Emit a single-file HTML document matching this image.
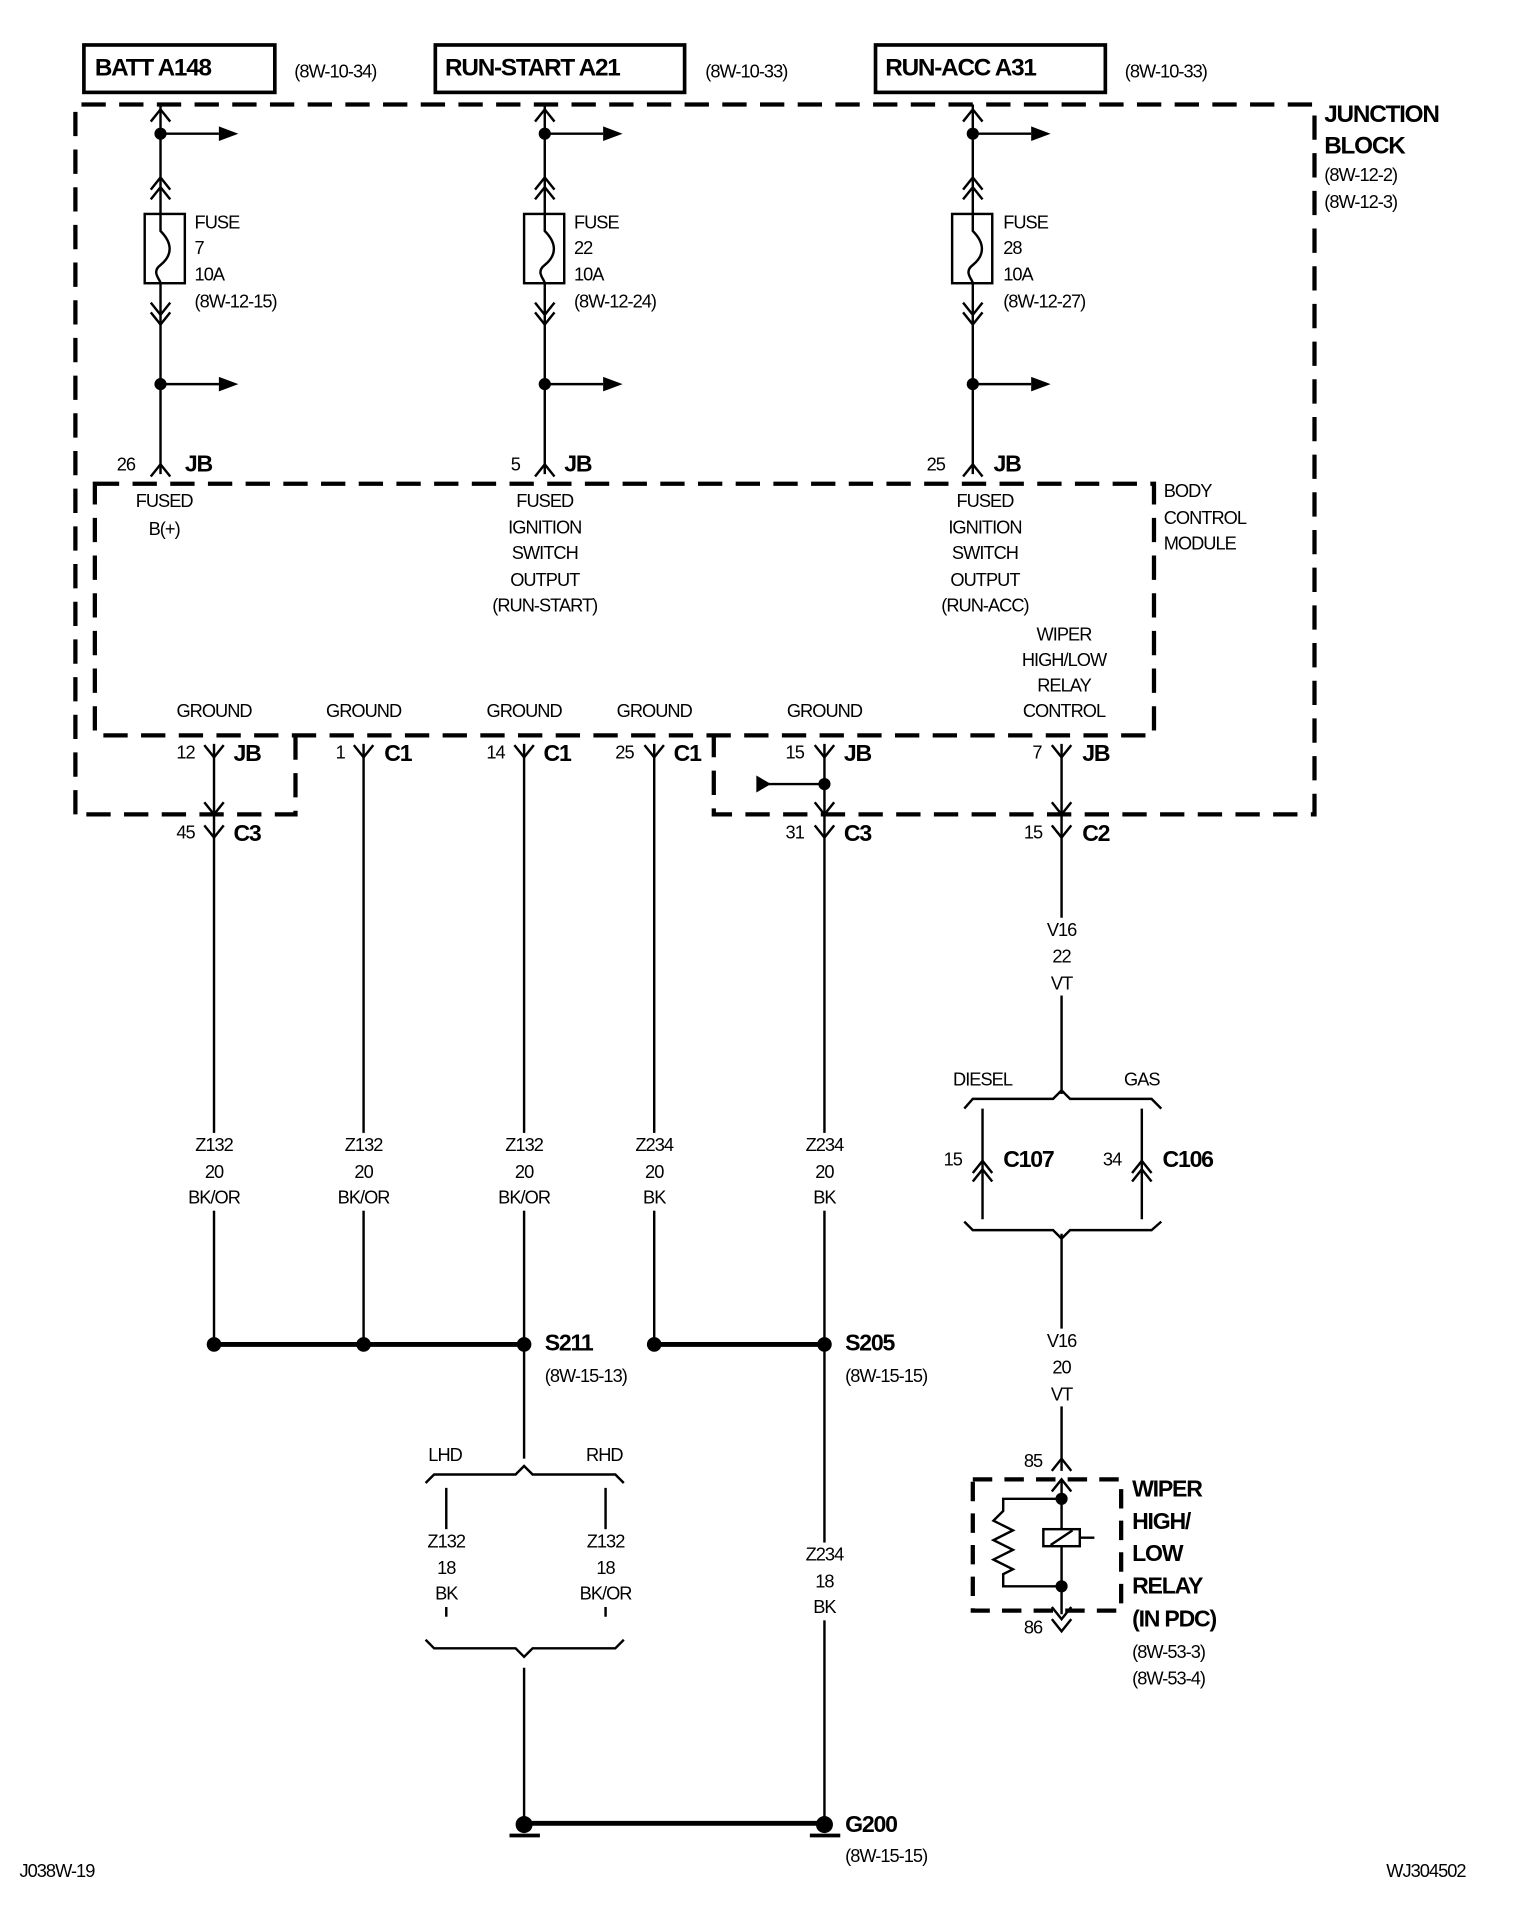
<!DOCTYPE html>
<html><head><meta charset="utf-8"><style>
html,body{margin:0;padding:0;background:#fff;}
svg{display:block;}
text{font-family:"Liberation Sans",sans-serif;fill:#000;}
.s{font-size:15px;letter-spacing:-0.8px;}
.b{font-size:20px;font-weight:bold;letter-spacing:-1px;}
.m{font-size:19px;font-weight:bold;letter-spacing:-1px;}
.c{text-anchor:middle;}
</style></head><body>
<svg width="1520" height="1906" viewBox="0 0 1250 1568" preserveAspectRatio="none" xmlns="http://www.w3.org/2000/svg">
<g fill="none" stroke="#000">
<rect x="69" y="37" width="157" height="39" stroke-width="3"/>
<rect x="358" y="37" width="205" height="39" stroke-width="3"/>
<rect x="720" y="37" width="189" height="39" stroke-width="3"/>
<path d="M62,670 V86 H1081 V670 H587 V605 M243,605 V670 H62" stroke-width="3.5" stroke-dasharray="20,11"/>
<rect x="78" y="398" width="871" height="207" stroke-width="3.5" stroke-dasharray="20,11"/>
<rect x="800" y="1217" width="122" height="108" stroke-width="3.5" stroke-dasharray="16,10"/>
</g>

<g stroke="#000" stroke-width="2" fill="none">
<path d="M132,86 V390 M448,86 V390 M800,86 V390"/>
<path d="M124,100 L132,90 L140,100 M440,100 L448,90 L456,100 M792,100 L800,90 L808,100"/>
<path d="M124,156 L132,146 L140,156 M124,164 L132,154 L140,164 M440,156 L448,146 L456,156 M440,164 L448,154 L456,164 M792,156 L800,146 L808,156 M792,164 L800,154 L808,164"/>
<path d="M124,249 L132,259 L140,249 M124,257 L132,267 L140,257 M440,249 L448,259 L456,249 M440,257 L448,267 L456,257 M792,249 L800,259 L808,249 M792,257 L800,267 L808,257"/>
<path d="M132,110 H180 M448,110 H496 M800,110 H848 M132,316 H180 M448,316 H496 M800,316 H848"/>
<path d="M124,392 L132,382 L140,392 M440,392 L448,382 L456,392 M792,392 L800,382 L808,392"/>
<rect x="119" y="176" width="33" height="57" fill="#fff"/>
<rect x="431" y="176" width="33" height="57" fill="#fff"/>
<rect x="783" y="176" width="33" height="57" fill="#fff"/>
<path d="M132,176 V190 C142,200 142,210 132,218 C124,224 132,230 132,233 V233"/>
<path d="M448,176 V190 C458,200 458,210 448,218 C440,224 448,230 448,233"/>
<path d="M800,176 V190 C810,200 810,210 800,218 C792,224 800,230 800,233"/>
<path d="M176,612 V1106 M299,612 V1106 M431,612 V1200 M538,612 V1106 M678,612 V1500 M873,612 V900"/>
<path d="M168,613 L176,623 L184,613 M291,613 L299,623 L307,613 M423,613 L431,623 L439,613 M530,613 L538,623 L546,613 M670,613 L678,623 L686,613 M865,613 L873,623 L881,613"/>
<path d="M168,660 L176,670 L184,660 M670,660 L678,670 L686,660 M865,660 L873,670 L881,660"/>
<path d="M168,679 L176,689 L184,679 M670,679 L678,689 L686,679 M865,679 L873,689 L881,679"/>
<path d="M630,645 H678"/>
<path d="M793,912 L800,904 H866 L873,897 L880,904 H947 L955,912"/>
<path d="M873,1015 V1210 M808,912 V1003 M939,912 V1003"/>
<path d="M800,965 L808,955 L816,965 M800,972 L808,962 L816,972 M931,965 L939,955 L947,965 M931,972 L939,962 L947,972"/>
<path d="M793,1005 L800,1012 H866 L873,1019 L880,1012 H947 L955,1005"/>
<path d="M865,1210 L873,1200 L881,1210 M865,1227 L873,1217 L881,1227 M873,1217 V1328 M865,1322 L873,1332 L881,1322 M865,1332 L873,1342 L881,1332"/>
<path d="M873,1233 H825 V1243 L817,1251 L833,1259 L817,1267 L833,1275 L817,1283 L833,1291 L825,1295 V1305 H873"/>
<rect x="858" y="1258" width="30" height="14" fill="#fff"/>
<path d="M864,1271 L882,1259 M888,1265 H900"/>
<path d="M350,1220 L357,1213 H424 L431,1206 L438,1213 H506 L513,1220"/>
<path d="M367,1224 V1330 M498,1224 V1330"/>
<path d="M350,1349 L357,1356 H424 L431,1363 L438,1356 H506 L513,1349"/>
<path d="M431,1372 V1500"/>
</g>
<g stroke="#000" stroke-width="4">
<path d="M176,1106 H431 M538,1106 H678 M431,1500 H678"/>
<path d="M419,1510 H444 M666,1510 H691" stroke-width="3"/>
</g>
<g fill="#000">
<path d="M180,104 L196,110 L180,116Z M496,104 L512,110 L496,116Z M848,104 L864,110 L848,116Z M180,310 L196,316 L180,322Z M496,310 L512,316 L496,322Z M848,310 L864,316 L848,322Z"/>
<path d="M622,638 L634,645 L622,652Z"/>
<circle cx="132" cy="110" r="5"/><circle cx="448" cy="110" r="5"/><circle cx="800" cy="110" r="5"/>
<circle cx="132" cy="316" r="5"/><circle cx="448" cy="316" r="5"/><circle cx="800" cy="316" r="5"/>
<circle cx="678" cy="645" r="5"/>
<circle cx="176" cy="1106" r="6"/><circle cx="299" cy="1106" r="6"/><circle cx="431" cy="1106" r="6"/><circle cx="538" cy="1106" r="6"/><circle cx="678" cy="1106" r="6"/>
<circle cx="873" cy="1233" r="5"/><circle cx="873" cy="1305" r="5"/>
<circle cx="431" cy="1501" r="7"/><circle cx="678" cy="1501" r="7"/>
</g>
<g fill="#fff">
<rect x="150" y="932" width="52" height="64"/><rect x="273" y="932" width="52" height="64"/><rect x="405" y="932" width="52" height="64"/><rect x="512" y="932" width="52" height="64"/><rect x="652" y="932" width="52" height="64"/>
<rect x="847" y="755" width="52" height="64"/><rect x="847" y="1093" width="52" height="64"/>
<rect x="345" y="1258" width="44" height="64"/><rect x="472" y="1258" width="52" height="64"/><rect x="652" y="1269" width="52" height="64"/>
</g>

<g dominant-baseline="middle">
<text class="b" x="78" y="57">BATT A148</text>
<text class="b" x="366" y="57">RUN-START A21</text>
<text class="b" x="728" y="57">RUN-ACC A31</text>
<text class="s" x="242" y="60">(8W-10-34)</text>
<text class="s" x="580" y="60">(8W-10-33)</text>
<text class="s" x="925" y="60">(8W-10-33)</text>
<text class="b" x="1089" y="95">JUNCTION</text>
<text class="b" x="1089" y="121">BLOCK</text>
<text class="s" x="1089" y="145">(8W-12-2)</text>
<text class="s" x="1089" y="167">(8W-12-3)</text>

<text class="s" x="160" y="184">FUSE</text><text class="s" x="160" y="205">7</text><text class="s" x="160" y="227">10A</text><text class="s" x="160" y="249">(8W-12-15)</text>
<text class="s" x="472" y="184">FUSE</text><text class="s" x="472" y="205">22</text><text class="s" x="472" y="227">10A</text><text class="s" x="472" y="249">(8W-12-24)</text>
<text class="s" x="825" y="184">FUSE</text><text class="s" x="825" y="205">28</text><text class="s" x="825" y="227">10A</text><text class="s" x="825" y="249">(8W-12-27)</text>

<text class="s" x="96" y="383">26</text><text class="m" x="152" y="383">JB</text>
<text class="s" x="420" y="383">5</text><text class="m" x="464" y="383">JB</text>
<text class="s" x="762" y="383">25</text><text class="m" x="817" y="383">JB</text>

<g class="s c">
<text x="135" y="413">FUSED</text><text x="135" y="436">B(+)</text>
<text x="448" y="413">FUSED</text><text x="448" y="435">IGNITION</text><text x="448" y="456">SWITCH</text><text x="448" y="478">OUTPUT</text><text x="448" y="499">(RUN-START)</text>
<text x="810" y="413">FUSED</text><text x="810" y="435">IGNITION</text><text x="810" y="456">SWITCH</text><text x="810" y="478">OUTPUT</text><text x="810" y="499">(RUN-ACC)</text>
<text x="875" y="523">WIPER</text><text x="875" y="544">HIGH/LOW</text><text x="875" y="565">RELAY</text><text x="875" y="586">CONTROL</text>
<text x="176" y="586">GROUND</text><text x="299" y="586">GROUND</text><text x="431" y="586">GROUND</text><text x="538" y="586">GROUND</text><text x="678" y="586">GROUND</text>
</g>
<text class="s" x="957" y="405">BODY</text><text class="s" x="957" y="427">CONTROL</text><text class="s" x="957" y="448">MODULE</text>

<text class="s" x="145" y="620">12</text><text class="m" x="192" y="621">JB</text>
<text class="s" x="276" y="620">1</text><text class="m" x="316" y="621">C1</text>
<text class="s" x="400" y="620">14</text><text class="m" x="447" y="621">C1</text>
<text class="s" x="506" y="620">25</text><text class="m" x="554" y="621">C1</text>
<text class="s" x="646" y="620">15</text><text class="m" x="694" y="621">JB</text>
<text class="s" x="849" y="620">7</text><text class="m" x="890" y="621">JB</text>
<text class="s" x="145" y="686">45</text><text class="m" x="192" y="687">C3</text>
<text class="s" x="646" y="686">31</text><text class="m" x="694" y="687">C3</text>
<text class="s" x="842" y="686">15</text><text class="m" x="890" y="687">C2</text>

<g class="s c">
<text x="176" y="943">Z132</text><text x="176" y="965">20</text><text x="176" y="986">BK/OR</text>
<text x="299" y="943">Z132</text><text x="299" y="965">20</text><text x="299" y="986">BK/OR</text>
<text x="431" y="943">Z132</text><text x="431" y="965">20</text><text x="431" y="986">BK/OR</text>
<text x="538" y="943">Z234</text><text x="538" y="965">20</text><text x="538" y="986">BK</text>
<text x="678" y="943">Z234</text><text x="678" y="965">20</text><text x="678" y="986">BK</text>
<text x="873" y="766">V16</text><text x="873" y="788">22</text><text x="873" y="810">VT</text>
<text x="873" y="1104">V16</text><text x="873" y="1126">20</text><text x="873" y="1148">VT</text>
<text x="367" y="1269">Z132</text><text x="367" y="1291">18</text><text x="367" y="1312">BK</text>
<text x="498" y="1269">Z132</text><text x="498" y="1291">18</text><text x="498" y="1312">BK/OR</text>
<text x="678" y="1280">Z234</text><text x="678" y="1302">18</text><text x="678" y="1323">BK</text>
<text x="366" y="1198">LHD</text><text x="497" y="1198">RHD</text>
<text x="808" y="889">DIESEL</text><text x="939" y="889">GAS</text>
</g>
<text class="m" x="448" y="1106">S211</text><text class="s" x="448" y="1133">(8W-15-13)</text>
<text class="m" x="695" y="1106">S205</text><text class="s" x="695" y="1133">(8W-15-15)</text>
<text class="m" x="695" y="1502">G200</text><text class="s" x="695" y="1528">(8W-15-15)</text>
<text class="s" x="776" y="955">15</text><text class="m" x="825" y="955">C107</text>
<text class="s" x="907" y="955">34</text><text class="m" x="956" y="955">C106</text>
<text class="s" x="842" y="1203">85</text><text class="s" x="842" y="1340">86</text>
<text class="m" x="931" y="1226">WIPER</text><text class="m" x="931" y="1253">HIGH/</text><text class="m" x="931" y="1279">LOW</text><text class="m" x="931" y="1306">RELAY</text><text class="m" x="931" y="1333">(IN PDC)</text>
<text class="s" x="931" y="1360">(8W-53-3)</text><text class="s" x="931" y="1382">(8W-53-4)</text>
<text class="s" x="16" y="1540">J038W-19</text>
<text class="s" x="1140" y="1540">WJ304502</text>
</g>
</svg>
</body></html>
